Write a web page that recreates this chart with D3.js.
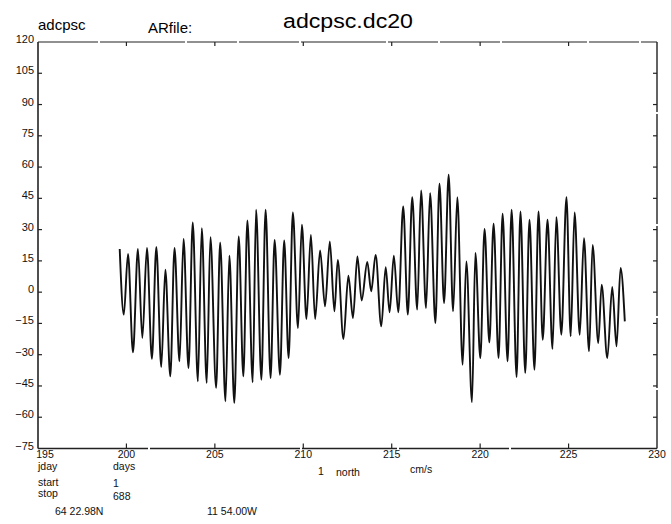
<!DOCTYPE html>
<html>
<head>
<meta charset="utf-8">
<script src="https://cdn.jsdelivr.net/npm/d3@7"></script>
<style>
  body { margin: 0; background: #fff; }
  svg { display: block; font-family: "Liberation Sans", Arial, sans-serif; }
</style>
</head>
<body>
<figure style="margin:0"></figure>
<script>
// extrema of the north component (jday, cm/s)
const jday = [
  199.62, 199.85, 200.09, 200.37, 200.65, 200.90, 201.16, 201.44, 201.69, 201.97,
  202.20, 202.48, 202.72, 203.00, 203.23, 203.51, 203.75, 204.04, 204.26, 204.54,
  204.75, 205.07, 205.30, 205.60, 205.82, 206.10, 206.35, 206.61, 206.84, 207.14,
  207.33, 207.63, 207.87, 208.15, 208.38, 208.68, 208.92, 209.17, 209.41, 209.70,
  209.92, 210.18, 210.43, 210.67, 210.95, 211.23, 211.50, 211.76, 211.95, 212.27,
  212.55, 212.81, 213.06, 213.30, 213.62, 213.84, 214.09, 214.41, 214.66, 214.88,
  215.12, 215.37, 215.65, 215.91, 216.16, 216.44, 216.66, 216.94, 217.17, 217.47,
  217.70, 217.96, 218.22, 218.47, 218.71, 219.01, 219.22, 219.54, 219.73, 220.01,
  220.25, 220.52, 220.76, 221.04, 221.27, 221.55, 221.78, 222.06, 222.28, 222.55,
  222.79, 223.07, 223.30, 223.54, 223.81, 224.09, 224.31, 224.59, 224.88, 225.12,
  225.34, 225.63, 225.87, 226.16, 226.36, 226.68, 226.87, 227.19, 227.47, 227.71,
  227.94, 228.18
];
const north = [
   20.7, -10.8,  18.3, -28.9,  20.7, -22.0,  21.2, -32.0,  21.7, -35.9,
   10.8, -40.4,  21.2, -33.2,  25.5, -36.4,  33.4, -42.8,  30.7, -43.5,
   26.4, -45.9,  23.8, -52.3,  17.5, -53.1,  26.7, -40.4,  34.4, -43.2,
   39.5, -42.0,  39.5, -41.2,  25.1, -39.6,  24.8, -31.6,  38.2, -17.2,
   32.3, -12.9,  27.5, -12.9,  20.0,  -6.8,  24.3,  -9.2,  15.5, -22.5,
    7.9, -12.4,  17.1,  -4.0,  14.5,   0.4,  17.9, -16.4,  12.0,  -9.7,
   17.5,  -9.7,  41.1, -10.8,  45.6,  -8.4,  48.8,  -7.6,  47.5, -14.8,
   52.0,  -5.2,  56.3,  -9.2,  45.6, -34.8,  14.7, -52.8,  18.8, -31.6,
   30.3, -24.1,  32.8, -31.6,  37.6, -33.2,  39.5, -40.7,  38.7, -38.7,
   34.7, -37.2,  38.7, -22.8,  34.7, -27.2,  36.0, -20.4,  45.6, -21.2,
   38.2, -20.4,  25.9, -28.4,  22.7, -24.4,   3.6, -31.6,   2.5, -26.0,
   11.6, -14.0
];
const xTicks = [195, 200, 205, 210, 215, 220, 225, 230];
const yTicks = [120, 105, 90, 75, 60, 45, 30, 15, 0, -15, -30, -45, -60, -75];

const W = 671, H = 524;
const plotL = 38, plotR = 657, plotT = 42, plotB = 448.5;

const svg = d3.select('figure')
  .append('svg')
  .attr('width', W)
  .attr('height', H);

const x = d3.scaleLinear().domain([195, 230]).range([plotL, plotR]);
const y = d3.scaleLinear().domain([-75, 120]).range([plotB, plotT]);

// frame: left and bottom solid, top and right slightly broken like the plotter output
const frame = svg.append('g').attr('stroke', '#222').attr('fill', 'none');
frame.append('line').attr('x1', plotL).attr('x2', plotL).attr('y1', plotT).attr('y2', plotB).attr('stroke-width', 1.6);
frame.append('line').attr('x1', plotL).attr('x2', plotR).attr('y1', plotB).attr('y2', plotB)
  .attr('stroke-width', 1.4).attr('stroke-dasharray', '110,2,150,2,95,2');
frame.append('line').attr('x1', plotL).attr('x2', plotR).attr('y1', plotT).attr('y2', plotT)
  .attr('stroke-width', 1.1).attr('stroke-dasharray', '60,2,85,2,50,2');
frame.append('line').attr('x1', plotR).attr('x2', plotR).attr('y1', plotT).attr('y2', plotB)
  .attr('stroke-width', 1.4).attr('stroke-dasharray', '70,2,110,2,90,2');

// ticks
const tickG = svg.append('g').attr('stroke', '#222').attr('stroke-width', 1.2);
tickG.selectAll('.xb').data(xTicks.slice(1, -1)).join('line')
  .attr('x1', d => x(d)).attr('x2', d => x(d)).attr('y1', plotB).attr('y2', plotB - 5);
tickG.selectAll('.xt').data(xTicks.slice(1, -1)).join('line')
  .attr('x1', d => x(d)).attr('x2', d => x(d)).attr('y1', plotT).attr('y2', plotT + 4);
tickG.selectAll('.yl').data(yTicks.slice(1, -1)).join('line')
  .attr('x1', plotL).attr('x2', plotL + 4).attr('y1', d => y(d)).attr('y2', d => y(d));
tickG.selectAll('.yr').data(yTicks.slice(1, -1)).join('line')
  .attr('x1', plotR).attr('x2', plotR - 4).attr('y1', d => y(d)).attr('y2', d => y(d));

// tick labels
svg.append('g').attr('font-size', 11).attr('fill', '#111').attr('text-anchor', 'end')
  .selectAll('text').data(yTicks).join('text')
  .attr('x', plotL - 4)
  .attr('y', d => y(d) + 1)
  .text(d => d < 0 ? '\u2212' + Math.abs(d) : d);

svg.append('g').attr('font-size', 10.5).attr('fill', '#111').attr('text-anchor', 'middle')
  .selectAll('text').data(xTicks).join('text')
  .attr('x', (d, i) => i === 0 ? x(d) + 7 : x(d))
  .attr('y', 458)
  .text(d => d);

// series
const line = d3.line()
  .x((d, i) => x(jday[i]))
  .y(d => y(d))
  .curve(d3.curveMonotoneX);

svg.append('path')
  .datum(north)
  .attr('fill', 'none')
  .attr('stroke', '#111')
  .attr('stroke-width', 1.9)
  .attr('stroke-linejoin', 'round')
  .attr('d', line);

// header texts
svg.append('text').attr('x', 38).attr('y', 30).attr('font-size', 15).text('adcpsc');
svg.append('text').attr('x', 148).attr('y', 33).attr('font-size', 15).text('ARfile:');
svg.append('text').attr('x', 283).attr('y', 28).attr('font-size', 20)
  .attr('textLength', 130).attr('lengthAdjust', 'spacingAndGlyphs').text('adcpsc.dc20');

// footer texts
const foot = svg.append('g').attr('font-size', 10.5).attr('fill', '#111');
foot.append('text').attr('x', 38).attr('y', 470).text('jday');
foot.append('text').attr('x', 113).attr('y', 470).text('days');
foot.append('text').attr('x', 318).attr('y', 475).text('1');
foot.append('text').attr('x', 336).attr('y', 476).text('north');
foot.append('text').attr('x', 410).attr('y', 473).text('cm/s');
foot.append('text').attr('x', 38).attr('y', 486).text('start');
foot.append('text').attr('x', 113).attr('y', 487).text('1');
foot.append('text').attr('x', 38).attr('y', 497).text('stop');
foot.append('text').attr('x', 113).attr('y', 500).text('688');
foot.append('text').attr('x', 55).attr('y', 515).text('64  22.98N');
foot.append('text').attr('x', 207).attr('y', 515).text('11  54.00W');
</script>
</body>
</html>
